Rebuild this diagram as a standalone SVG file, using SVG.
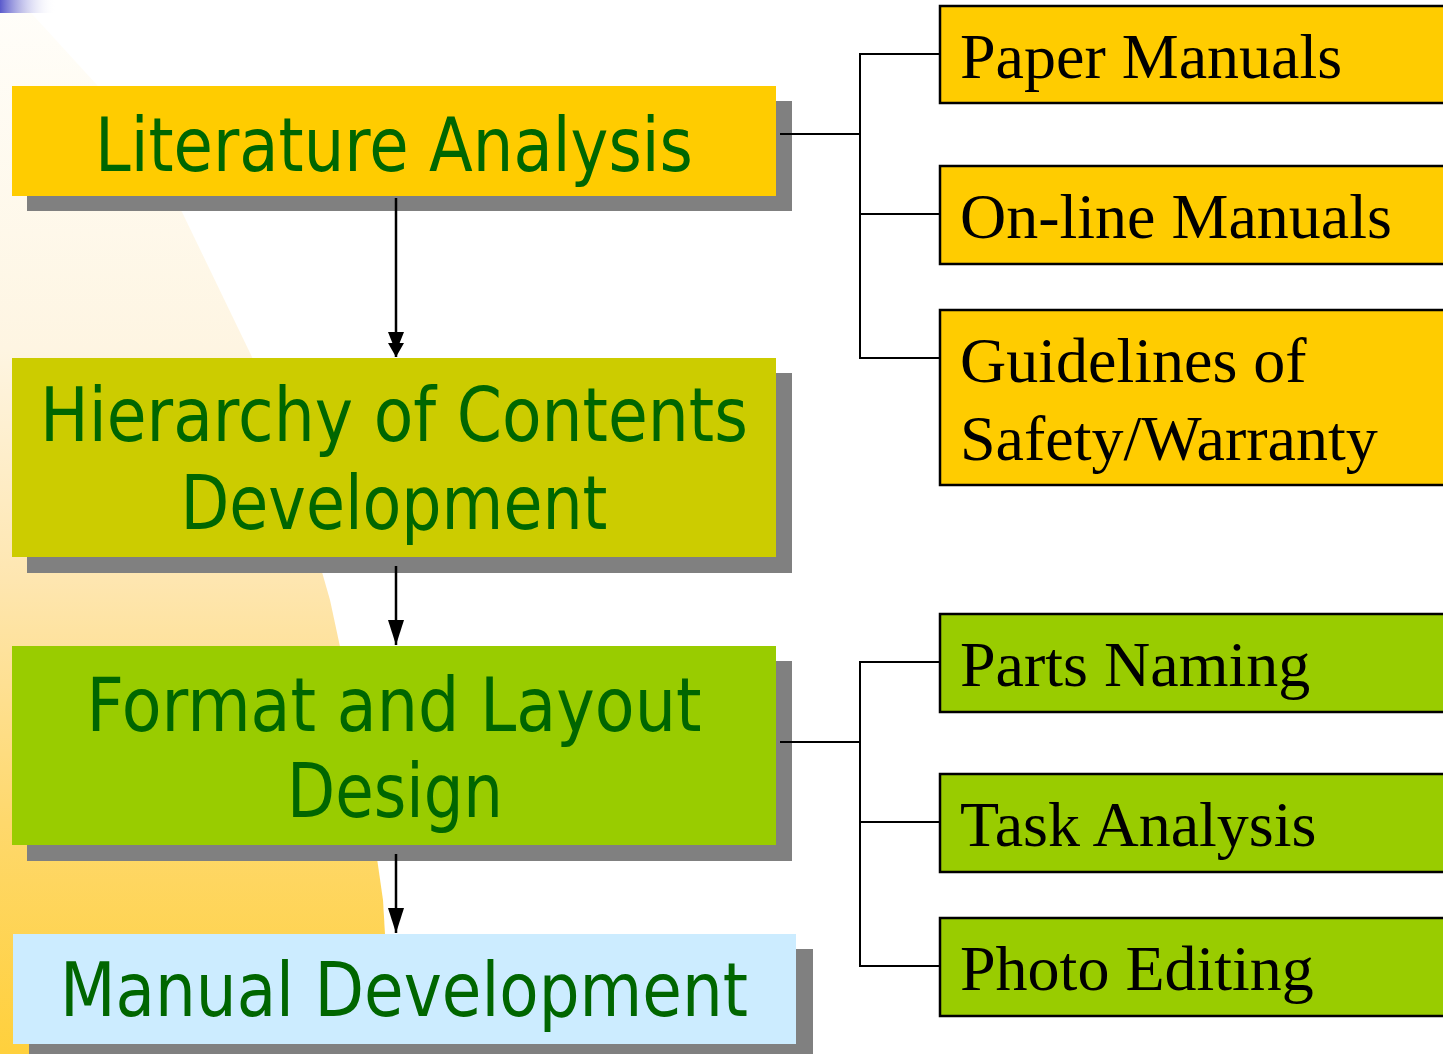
<svg xmlns="http://www.w3.org/2000/svg" width="1443" height="1054" viewBox="0 0 1443 1054">
<defs>
<linearGradient id="bg" x1="0" y1="0" x2="0" y2="1054" gradientUnits="userSpaceOnUse">
<stop offset="0" stop-color="#fffefa"/>
<stop offset="0.33" stop-color="#fef5e2"/>
<stop offset="0.55" stop-color="#fee6b0"/>
<stop offset="0.78" stop-color="#fed86c"/>
<stop offset="1" stop-color="#ffd03c"/>
</linearGradient>
<linearGradient id="bar" x1="0" y1="0" x2="1" y2="0">
<stop offset="0" stop-color="#5a5acc"/>
<stop offset="1" stop-color="#ffffff" stop-opacity="0"/>
</linearGradient>
<marker id="ah2" markerUnits="userSpaceOnUse" viewBox="0 -9 26 18" markerWidth="26" markerHeight="18" refX="25" refY="0" orient="auto">
<path d="M0,-8 L11,-3.6 L11,-8 L25,0 L11,8 L11,3.6 L0,8 Z" fill="#000"/>
</marker>
<marker id="ah" markerUnits="userSpaceOnUse" viewBox="0 -9 26 18" markerWidth="26" markerHeight="18" refX="25" refY="0" orient="auto">
<path d="M0,-8 L25,0 L0,8 Z" fill="#000"/>
</marker>
</defs>
<style>
.shadow{fill:#808080}
.main{font-family:"DejaVu Sans","Liberation Sans",sans-serif;font-size:74px;fill:#006600;text-anchor:middle}
.side{font-family:"Liberation Serif","Times New Roman",serif;font-size:64px;fill:#000}
.sbox{stroke:#000;stroke-width:2.5}
.conn{stroke:#000;stroke-width:2;fill:none}
.arr{stroke:#000;stroke-width:2.5;fill:none}
</style>
<rect width="1443" height="1054" fill="#ffffff"/>
<path d="M19,0 L33,15 L97,85 L182,212 L252,357 L300,495 L330,600 L360,740 L383,900 L392,1054 L0,1054 L0,0 Z" fill="url(#bg)"/>
<rect x="0" y="0" width="56" height="13" fill="url(#bar)"/>

<g id="literature">
<rect class="shadow" x="27" y="101" width="765" height="110"/>
<rect x="12" y="86" width="764" height="110" fill="#ffcc00"/>
<text class="main" x="394" y="171" textLength="598" lengthAdjust="spacingAndGlyphs">Literature Analysis</text>
</g>
<g id="hierarchy">
<rect class="shadow" x="27" y="373" width="765" height="200"/>
<rect x="12" y="358" width="764" height="199" fill="#cccc00"/>
<text class="main" x="394" y="441" textLength="708" lengthAdjust="spacingAndGlyphs">Hierarchy of Contents</text>
<text class="main" x="394" y="529" textLength="427" lengthAdjust="spacingAndGlyphs">Development</text>
</g>
<g id="format">
<rect class="shadow" x="27" y="661" width="765" height="200"/>
<rect x="12" y="646" width="764" height="199" fill="#99cc00"/>
<text class="main" x="394" y="731" textLength="615" lengthAdjust="spacingAndGlyphs">Format and Layout</text>
<text class="main" x="395" y="817" textLength="216" lengthAdjust="spacingAndGlyphs">Design</text>
</g>
<g id="manual">
<rect class="shadow" x="29" y="949" width="784" height="110"/>
<rect x="13" y="934" width="783" height="110" fill="#ccecff"/>
<text class="main" x="404" y="1016" textLength="688" lengthAdjust="spacingAndGlyphs">Manual Development</text>
</g>

<g id="paper-manuals">
<rect class="sbox" x="940" y="6" width="510" height="97" fill="#ffcc00"/>
<text class="side" x="960" y="78">Paper Manuals</text>
</g>
<g id="online-manuals">
<rect class="sbox" x="940" y="166" width="510" height="98" fill="#ffcc00"/>
<text class="side" x="960" y="238">On-line Manuals</text>
</g>
<g id="guidelines">
<rect class="sbox" x="940" y="310" width="510" height="175" fill="#ffcc00"/>
<text class="side" x="960" y="382">Guidelines of</text>
<text class="side" x="960" y="460">Safety/Warranty</text>
</g>
<g id="parts-naming">
<rect class="sbox" x="940" y="614" width="510" height="98" fill="#99cc00"/>
<text class="side" x="960" y="686">Parts Naming</text>
</g>
<g id="task-analysis">
<rect class="sbox" x="940" y="774" width="510" height="98" fill="#99cc00"/>
<text class="side" x="960" y="846">Task Analysis</text>
</g>
<g id="photo-editing">
<rect class="sbox" x="940" y="918" width="510" height="98" fill="#99cc00"/>
<text class="side" x="960" y="990">Photo Editing</text>
</g>

<g id="connectors">
<line class="arr" x1="396" y1="198" x2="396" y2="357" marker-end="url(#ah2)"/>
<line class="arr" x1="396" y1="566" x2="396" y2="645" marker-end="url(#ah)"/>
<line class="arr" x1="396" y1="854" x2="396" y2="933" marker-end="url(#ah)"/>
<path class="conn" d="M780,134 H860 M860,53 V359 M859,54 H940 M860,214 H940 M859,358 H940"/>
<path class="conn" d="M780,742 H860 M860,661 V967 M859,662 H940 M860,822 H940 M859,966 H940"/>
</g>
</svg>
